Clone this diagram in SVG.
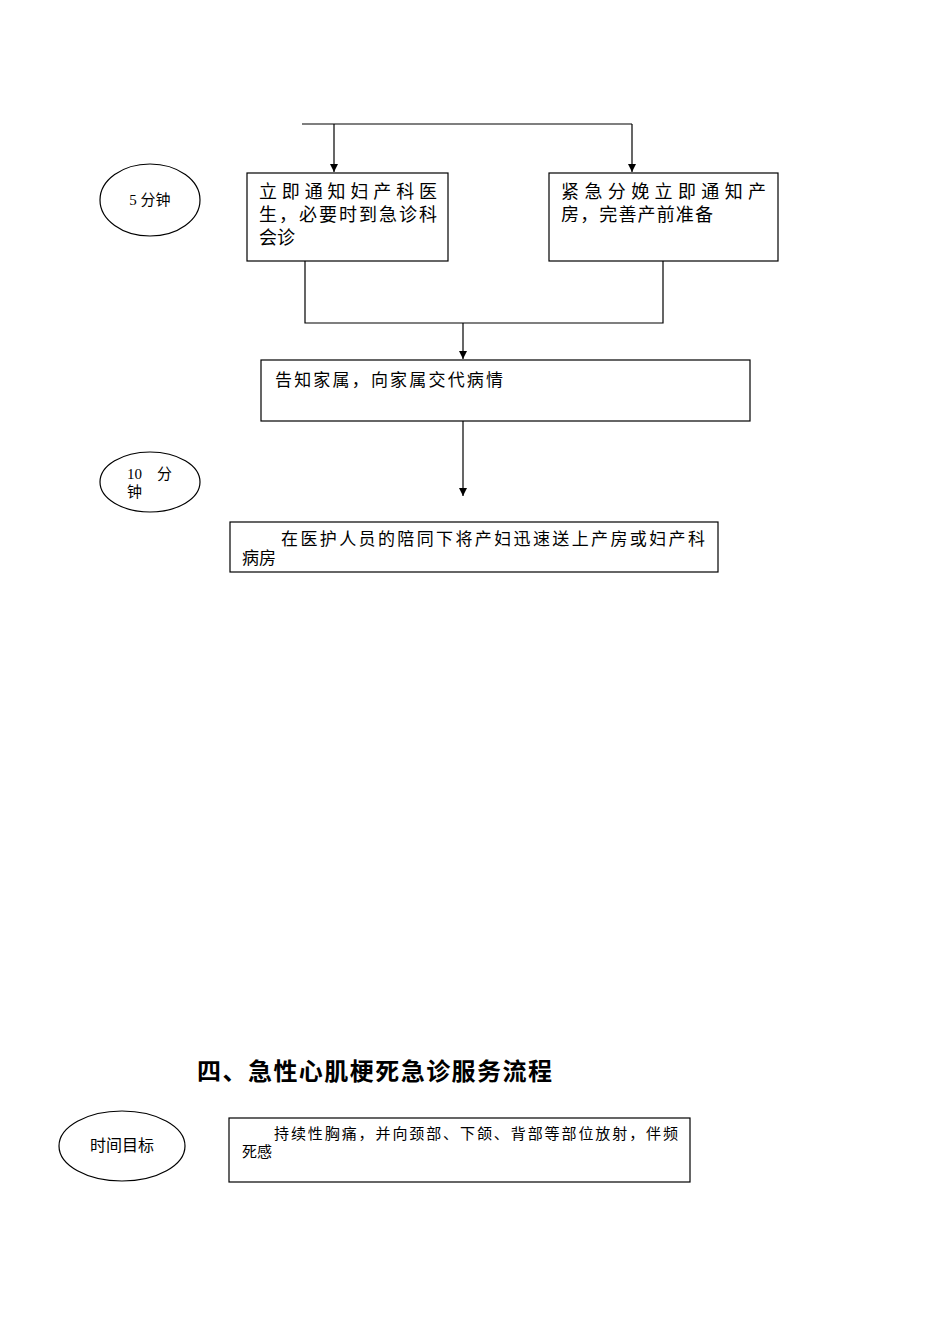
<svg xmlns="http://www.w3.org/2000/svg" width="950" height="1344" viewBox="0 0 950 1344">
<style>
.b{fill:none;stroke:#000;stroke-width:1.2}
.l{stroke:#000;stroke-width:1.2;fill:none}
.t{font-family:"Liberation Serif","Noto Sans CJK SC",serif;fill:#000}
</style>
<defs><marker id="a" markerWidth="10" markerHeight="10" refX="8" refY="4" orient="auto" markerUnits="userSpaceOnUse"><path d="M0,0 L8,4 L0,8 Z" fill="#000"/></marker></defs>
<rect width="950" height="1344" fill="#fff"/>
<g id="connectors">
<path class="l" d="M302,124 H632"/>
<path class="l" d="M334,124 V172" marker-end="url(#a)"/>
<path class="l" d="M632,124 V172" marker-end="url(#a)"/>
<path class="l" d="M305,261 V323 H663 V261"/>
<path class="l" d="M463,323 V359" marker-end="url(#a)"/>
<path class="l" d="M463,421 V496" marker-end="url(#a)"/>
</g>
<g id="t5"><ellipse class="b" cx="150" cy="200" rx="50" ry="36"/><text class="t" x="150" y="205" font-size="15" text-anchor="middle">5 分钟</text></g>
<g id="n1"><rect class="b" x="247" y="173" width="201" height="88"/><text class="t" font-size="18" x="259" y="198" textLength="178">立即通知妇产科医</text><text class="t" font-size="18" x="259" y="221" textLength="178">生，必要时到急诊科</text><text class="t" font-size="18" x="259" y="244">会诊</text></g>
<g id="n2"><rect class="b" x="549" y="173" width="229" height="88"/><text class="t" font-size="18" x="561" y="198" textLength="205">紧急分娩立即通知产</text><text class="t" font-size="18" x="561" y="221" textLength="152">房，完善产前准备</text></g>
<g id="n3"><rect class="b" x="261" y="360" width="489" height="61"/><text class="t" font-size="17" x="275" y="386" textLength="228">告知家属，向家属交代病情</text></g>
<g id="t10"><ellipse class="b" cx="150" cy="482" rx="50" ry="30"/><text class="t" font-size="15" x="127" y="479">10　分</text><text class="t" font-size="15" x="127" y="497">钟</text></g>
<g id="n4"><rect class="b" x="230" y="522" width="488" height="50"/><text class="t" font-size="17" x="281" y="545" textLength="424">在医护人员的陪同下将产妇迅速送上产房或妇产科</text><text class="t" font-size="17" x="242" y="564">病房</text></g>
<text class="t" x="197" y="1080" font-size="24" font-weight="bold" textLength="355">四、急性心肌梗死急诊服务流程</text>
<g id="tg"><ellipse class="b" cx="122" cy="1146" rx="63" ry="35"/><text class="t" font-size="16" x="122" y="1151" text-anchor="middle">时间目标</text></g>
<g id="n5"><rect class="b" x="229" y="1118" width="461" height="64"/><text class="t" font-size="15" x="274" y="1139" textLength="404">持续性胸痛，并向颈部、下颌、背部等部位放射，伴频</text><text class="t" font-size="15" x="242" y="1157">死感</text></g>
</svg>
